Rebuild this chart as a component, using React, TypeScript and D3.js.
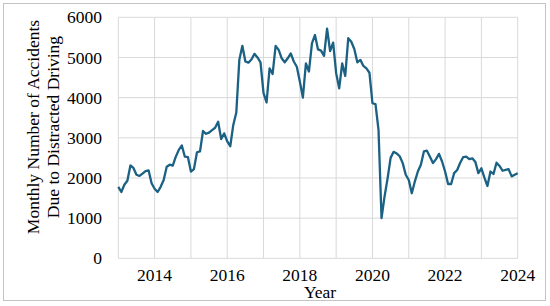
import React from "react";
import * as d3 from "d3";

// Monthly accidents due to distracted driving, Jan 2013 onward
const y2013 = [1780, 1650, 1830, 1930, 2310, 2250, 2080, 2050, 2110, 2170, 2190, 1870];
const y2014 = [1730, 1650, 1780, 1950, 2280, 2330, 2310, 2530, 2700, 2810, 2530, 2520];
const y2015 = [2160, 2220, 2640, 2660, 3170, 3100, 3130, 3190, 3250, 3400, 2970, 3110];
const y2016 = [2910, 2790, 3320, 3630, 4940, 5290, 4900, 4870, 4950, 5090, 5000, 4880];
const y2017 = [4110, 3880, 4730, 4590, 5290, 5190, 4980, 4880, 4980, 5100, 4900, 4770];
const y2018 = [4400, 4000, 4850, 4650, 5350, 5560, 5200, 5170, 5040, 5720, 5160, 5370];
const y2019 = [4610, 4230, 4850, 4540, 5480, 5390, 5210, 4880, 4940, 4790, 4730, 4620];
const y2020 = [3860, 3840, 3200, 1000, 1540, 1990, 2500, 2650, 2610, 2540, 2370, 2080];
const y2021 = [1950, 1620, 1910, 2160, 2330, 2660, 2680, 2530, 2370, 2470, 2600, 2410];
const y2022 = [2160, 1850, 1850, 2120, 2200, 2380, 2520, 2530, 2470, 2490, 2400, 2120];
const y2023 = [2240, 2010, 1800, 2160, 2100, 2380, 2300, 2180, 2200, 2220, 2040, 2080];
const y2024 = [2120];

const monthly = [
  ...y2013, ...y2014, ...y2015, ...y2016, ...y2017, ...y2018,
  ...y2019, ...y2020, ...y2021, ...y2022, ...y2023, ...y2024,
];

const yearTicks = [2013, 2014, 2015, 2016, 2017, 2018, 2019, 2020, 2021, 2022, 2023, 2024];
const yearLabels = [2014, 2016, 2018, 2020, 2022, 2024];
const valueTicks = [0, 1000, 2000, 3000, 4000, 5000, 6000];

const W = 550;
const H = 306;
const FONT = '"Liberation Serif", "Times New Roman", "DejaVu Serif", serif';

export default function App() {
  const x = d3.scaleLinear().domain([2013, 2024]).range([118.3, 517.7]);
  const y = d3.scaleLinear().domain([0, 6000]).range([258.3, 17.3]);

  const line = d3
    .line<number>()
    .x((_, i) => x(2013 + i / 12))
    .y((d) => y(d));

  const titleCy = 127;
  const txt = { fontFamily: FONT, fontSize: "17.5px", fill: "#000" } as React.CSSProperties;

  return (
    <svg
      width={W}
      height={H}
      style={{ position: "absolute", left: 0, top: 0, background: "#fff" }}
    >
      <rect x={3.5} y={3.5} width={542} height={297} fill="#fff" stroke="#c4c4c4" strokeWidth={1} />
      {valueTicks.map((v) => (
        <line
          key={"h" + v}
          x1={x(2013)}
          x2={x(2024)}
          y1={y(v)}
          y2={y(v)}
          stroke="#d9d9d9"
          strokeWidth={1}
        />
      ))}
      {yearTicks.map((t) => (
        <line
          key={"v" + t}
          x1={x(t)}
          x2={x(t)}
          y1={y(0)}
          y2={y(6000)}
          stroke="#d9d9d9"
          strokeWidth={1}
        />
      ))}
      <path
        d={line(monthly) || ""}
        fill="none"
        stroke="#1a6184"
        strokeWidth={2.3}
        strokeLinejoin="round"
      />
      {valueTicks.map((v) => (
        <text key={"yl" + v} x={102} y={y(v)} dy="0.35em" textAnchor="end" style={txt}>
          {v}
        </text>
      ))}
      {yearLabels.map((t) => (
        <text key={"xl" + t} x={x(t)} y={281} textAnchor="middle" style={txt}>
          {t}
        </text>
      ))}
      <text x={320} y={298} textAnchor="middle" style={txt}>
        Year
      </text>
      <text transform={`translate(39,${titleCy}) rotate(-90)`} textAnchor="middle" style={txt}>
        Monthly Number of Accidents
      </text>
      <text transform={`translate(59,${titleCy}) rotate(-90)`} textAnchor="middle" style={txt}>
        Due to Distracted Driving
      </text>
    </svg>
  );
}
